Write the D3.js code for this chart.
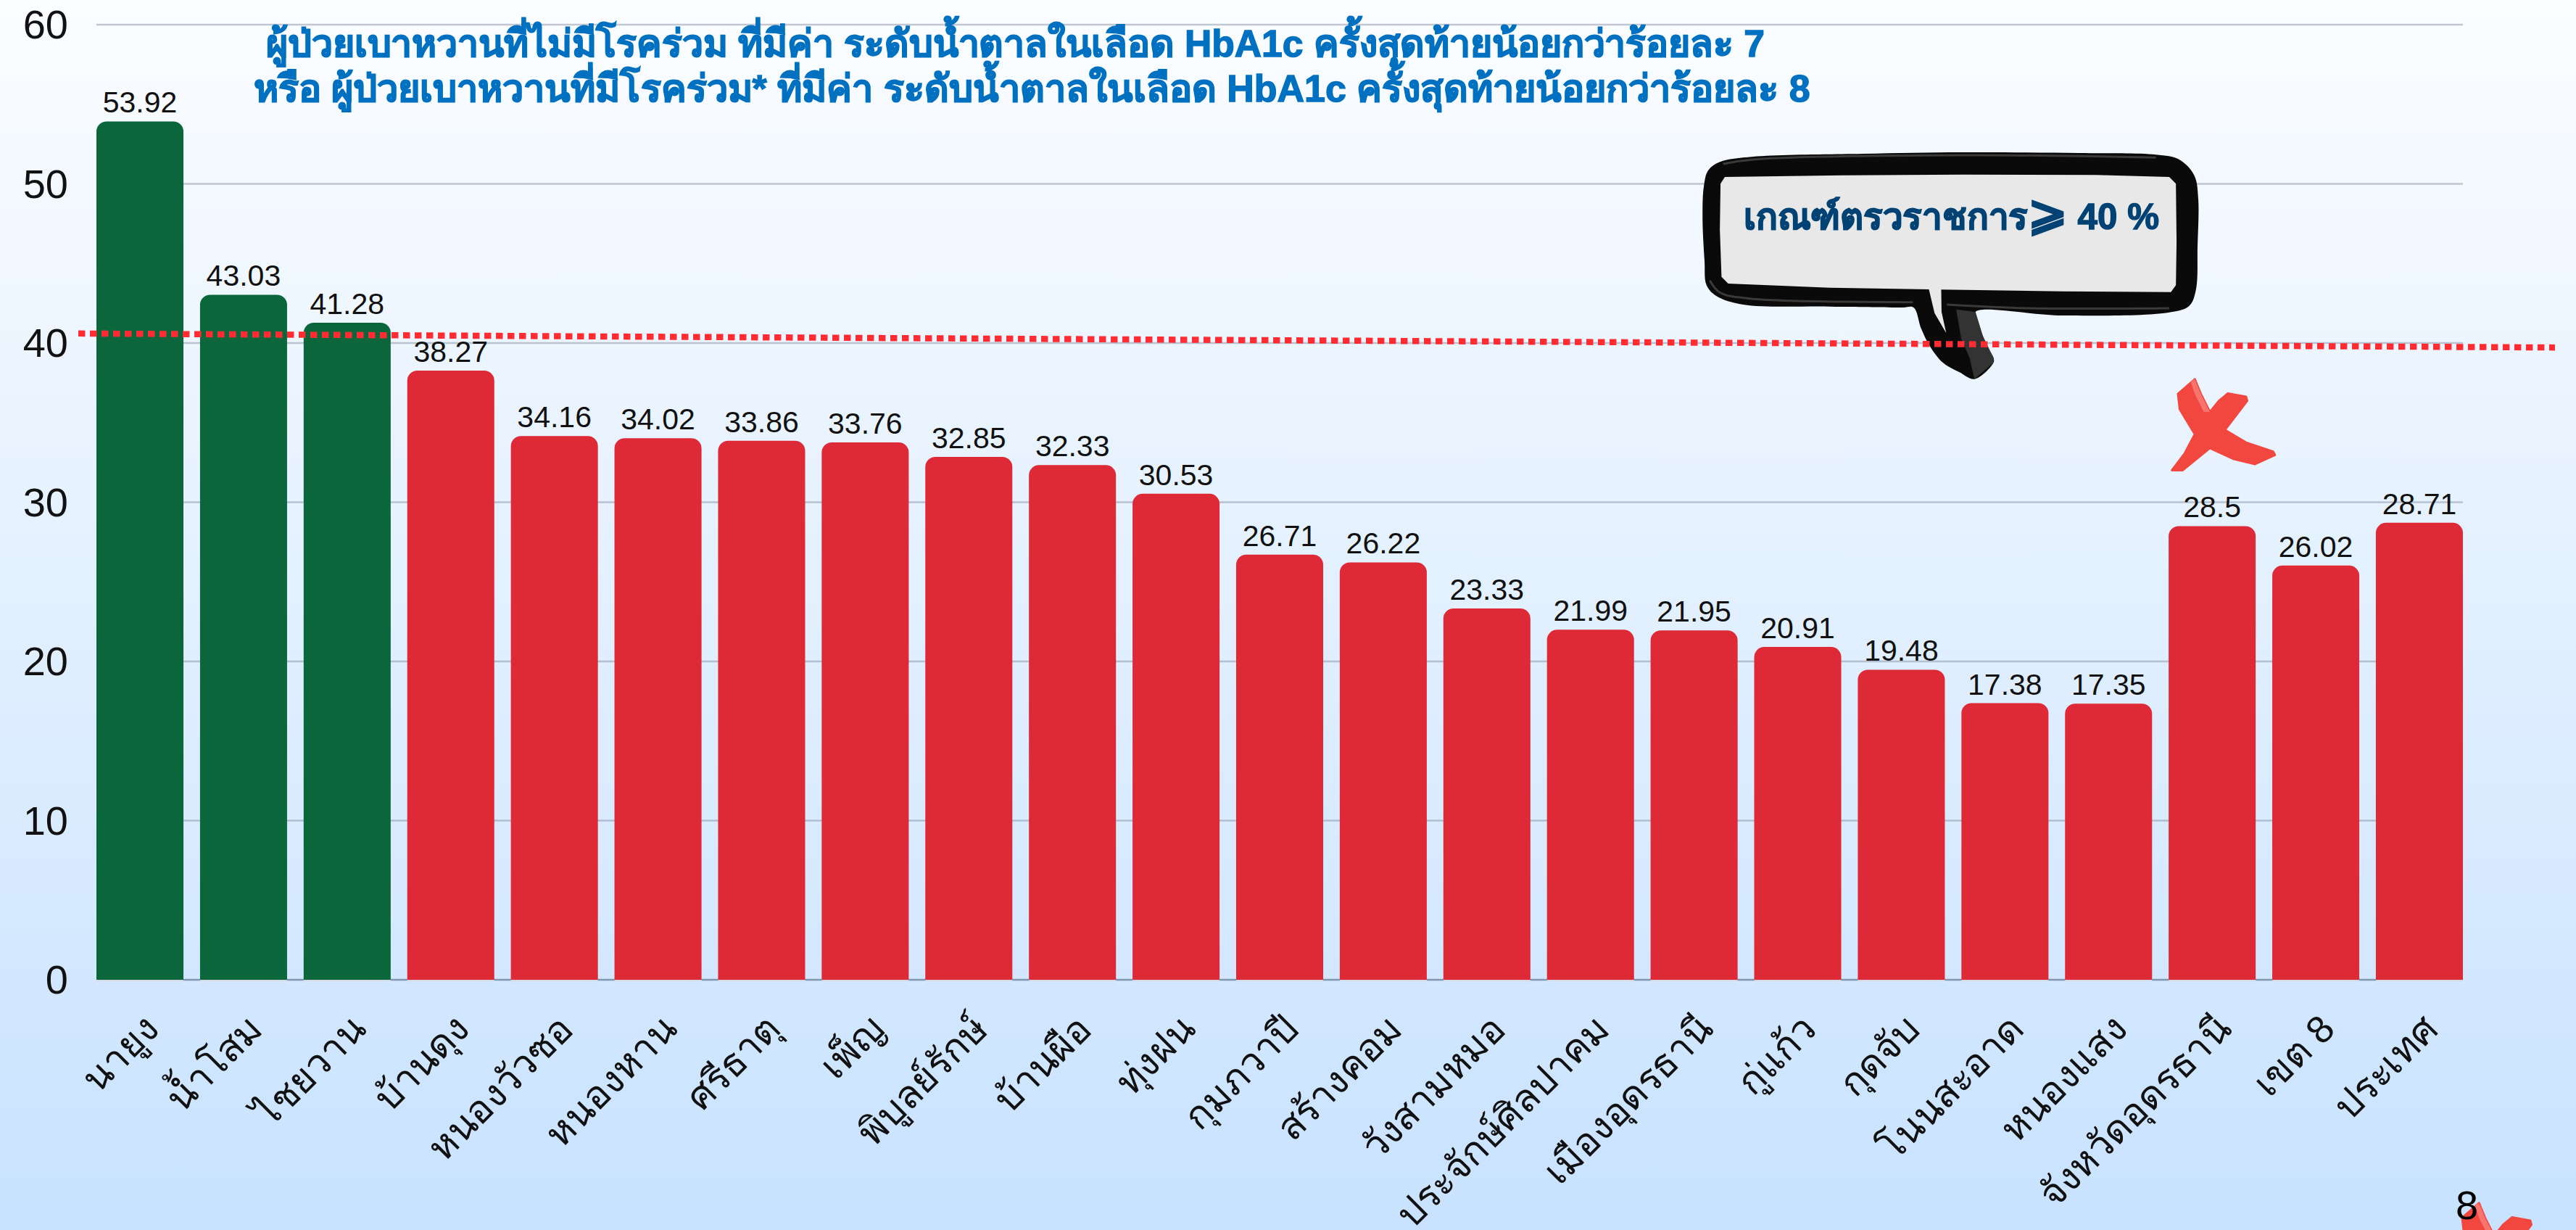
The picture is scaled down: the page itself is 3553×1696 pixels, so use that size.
<!DOCTYPE html>
<html><head><meta charset="utf-8">
<script src="https://cdn.jsdelivr.net/npm/d3@7/dist/d3.min.js"></script>
<style>html,body{margin:0;padding:0;overflow:hidden}svg{display:block}</style>
</head><body><svg id="c" width="3553" height="1696"></svg>
<script>
const categories=["นายูง","น้ำโสม","ไชยวาน","บ้านดุง","หนองวัวซอ","หนองหาน","ศรีธาตุ","เพ็ญ","พิบูลย์รักษ์","บ้านผือ","ทุ่งฝน","กุมภวาปี","สร้างคอม","วังสามหมอ","ประจักษ์ศิลปาคม","เมืองอุดรธานี","กู่แก้ว","กุดจับ","โนนสะอาด","หนองแสง","จังหวัดอุดรธานี","เขต 8","ประเทศ"];
const values=[53.92,43.03,41.28,38.27,34.16,34.02,33.86,33.76,32.85,32.33,30.53,26.71,26.22,23.33,21.99,21.95,20.91,19.48,17.38,17.35,28.5,26.02,28.71];
const yTicks=[0,10,20,30,40,50,60];
const titleLines=["ผู้ป่วยเบาหวานที่ไม่มีโรคร่วม ที่มีค่า ระดับน้ำตาลในเลือด HbA1c ครั้งสุดท้ายน้อยกว่าร้อยละ 7","หรือ ผู้ป่วยเบาหวานที่มีโรคร่วม* ที่มีค่า ระดับน้ำตาลในเลือด HbA1c ครั้งสุดท้ายน้อยกว่าร้อยละ 8"];
const titleSpans=[[367,2432],[350,2497]];
const calloutParts=[["เกณฑ์ตรวราชการ",50],["⩾",66],[" 40 %",50]];
const pageNumber="8";
const svg=d3.select("#c");
const defs=svg.append("defs");
const g=defs.append("linearGradient").attr("id","bg").attr("x1",0).attr("x2",0).attr("y1",0).attr("y2",1);
g.append("stop").attr("offset",0).attr("stop-color","#fbfdff");
g.append("stop").attr("offset",1).attr("stop-color","#c8e2ff");
svg.append("rect").attr("width",3553).attr("height",1696).attr("fill","url(#bg)");
const x=d3.scaleBand().domain(categories).range([133,3397]).paddingInner(0.16).paddingOuter(0);
const y=d3.scaleLinear().domain([0,60]).range([1351,34]);
const font="'Liberation Sans',Arial,sans-serif";
svg.append("g").selectAll("line").data(yTicks).join("line").attr("x1",133).attr("x2",3397)
 .attr("y1",d=>y(d)).attr("y2",d=>y(d)).attr("stroke",d=>d===0?"#7f97ad":"#7c8798").attr("stroke-opacity",d=>d===0?1:.45).attr("stroke-width",2.5);
svg.append("g").selectAll("text").data(yTicks).join("text").attr("x",94).attr("y",d=>y(d)+19).attr("text-anchor","end")
 .attr("font-size",56).attr("font-family",font).attr("fill","#111").text(d=>d);
const r=14;
const bars=svg.append("g");
bars.selectAll("path").data(categories).join("path")
 .attr("fill",(d,i)=>values[i]>=40?"#0b673b":"#de2a36")
 .attr("d",(d,i)=>{const a=x(d),w=x.bandwidth(),t=y(values[i]),b=y(0);return `M${a},${b}V${t+r}A${r},${r} 0 0 1 ${a+r},${t}H${a+w-r}A${r},${r} 0 0 1 ${a+w},${t+r}V${b}Z`;});
bars.selectAll("rect").data(categories).join("rect").attr("x",d=>x(d)).attr("width",x.bandwidth()).attr("y",y(0)).attr("height",2).attr("fill","#d6d8e6");
svg.append("g").selectAll("text").data(categories).join("text")
 .attr("x",d=>x(d)+x.bandwidth()/2).attr("y",(d,i)=>y(values[i])-12).attr("text-anchor","middle")
 .attr("font-size",41).attr("font-family",font).attr("fill","#111").text((d,i)=>values[i]);
svg.append("g").selectAll("text").data(categories).join("text")
 .attr("transform",d=>`translate(${x(d)+x.bandwidth()/2+29},${1422}) rotate(-45)`).attr("text-anchor","end")
 .attr("font-size",53).attr("font-family",font).attr("fill","#111").text(d=>d);

// title, fitted to the widths measured in the reference
svg.selectAll(".t").data(titleLines).join("text").attr("class","t")
 .attr("font-size",52).attr("font-weight",700).attr("font-family",font).attr("fill","#0070c0")
 .attr("stroke","#0070c0").attr("stroke-width",1.4).attr("paint-order","stroke").text(d=>d)
 .each(function(d,i){const len=this.getComputedTextLength(),[a,b]=titleSpans[i],yy=78+i*62;
   d3.select(this).attr("transform",`translate(${a},${yy}) scale(${(b-a)/len},1)`);});

const cx=d3.scaleLinear().domain([0,2.178]).range([2340,2341]);
const cy=d3.scaleLinear().domain([0,3]).range([200,201]);
const P=(p)=>p.map(([a,b])=>[cx(a),cy(b)]);
const outer=[[70,70],[170,48],[500,36],[800,30],[1150,33],[1380,40],[1450,60],[1495,125],[1507,220],[1505,420],[1500,600],[1480,665],[1420,692],[1100,705],[838,690],[846,730],[860,790],[875,840],[892,880],[892,900],[835,968],[790,940],[740,900],[700,830],[675,760],[652,672],[620,672],[400,668],[140,660],[60,625],[30,580],[24,480],[18,300],[22,170],[35,105]];
const inner=[[85,132],[450,125],[800,122],[1200,124],[1420,132],[1440,160],[1442,400],[1440,580],[1425,608],[1100,605],[735,598],[736,690],[750,778],[715,695],[698,597],[400,590],[95,573],[75,545],[70,350],[72,160]];
const face=[[780,680],[838,690],[860,790],[892,880],[892,900],[835,968],[820,880],[795,800]];
const lc=d3.line().curve(d3.curveCatmullRomClosed.alpha(.5));
const lin=d3.line().curve(d3.curveLinearClosed);
const callout=svg.append("g");
callout.append("path").attr("d",lc(P(outer))).attr("fill","#0a0a0a");
callout.append("path").attr("d",lin(P(face))).attr("fill","#333");
const hl=[[[80,78],[170,60],[800,42],[1380,52]],[[40,560],[70,610],[160,635],[650,650]],[[752,660],[1000,675],[1420,675]]];
callout.selectAll(".h").data(hl).join("path").attr("class","h").attr("d",d=>d3.line().curve(d3.curveCatmullRom)(P(d)))
 .attr("fill","none").attr("stroke","#3a3a3a").attr("stroke-width",3);
callout.append("path").attr("d",lin(P(inner))).attr("fill","#e8e8e8");
const ct=callout.append("text").attr("font-weight",700).attr("font-family",font).attr("fill","#004274")
 .attr("stroke","#004274").attr("stroke-width",1.4).attr("paint-order","stroke");
ct.selectAll("tspan").data(calloutParts).join("tspan").attr("font-size",d=>d[1]).text(d=>d[0]);
ct.each(function(){const len=this.getComputedTextLength();d3.select(this).attr("xml:space","preserve").attr("transform",`translate(2405,316) scale(${571/len},1)`);});

// threshold line, read against the value axis at both ends
const thresholdEnds=[[108,40.6],[3524,39.72]];
svg.append("line").attr("x1",thresholdEnds[0][0]).attr("x2",thresholdEnds[1][0])
 .attr("y1",y(thresholdEnds[0][1])).attr("y2",y(thresholdEnds[1][1]))
 .attr("stroke","#ff2d33").attr("stroke-width",8.5).attr("stroke-dasharray","9.5 6.5");

// red crosses
const crossPts=[[935,922],[907,975],[910,1030],[935,1120],[918,1190],[897,1250],[915,1250],[960,1170],[1000,1210],[1035,1228],[1068,1195],[1065,1183],[1020,1150],[985,1105],[1022,1000],[1020,985],[990,973],[975,1000],[960,1040],[945,975]];
const kx=d3.scaleLinear().domain([0,1.203]).range([2250,2251]);
const ky=d3.scaleLinear().domain([0,2.613]).range([170,171]);
const crossPath=lin(crossPts.map(([a,b])=>[kx(a),ky(b)]));
const sheen=lin([[935,922],[945,975],[960,1040],[950,1040],[935,975],[928,930]].map(([a,b])=>[kx(a),ky(b)]));
[[0,0],[392,1136]].forEach(([dx,dy])=>{
  const k=svg.append("g").attr("transform",`translate(${dx},${dy})`);
  k.append("path").attr("d",crossPath).attr("fill","#f2473f").attr("stroke","#f2473f").attr("stroke-width",3).attr("stroke-linejoin","round");
  k.append("path").attr("d",sheen).attr("fill","#f9746c");
});
svg.append("text").attr("x",3387).attr("y",1681).attr("font-size",56).attr("font-family",font).attr("fill","#000").text(pageNumber);
</script></body></html>
